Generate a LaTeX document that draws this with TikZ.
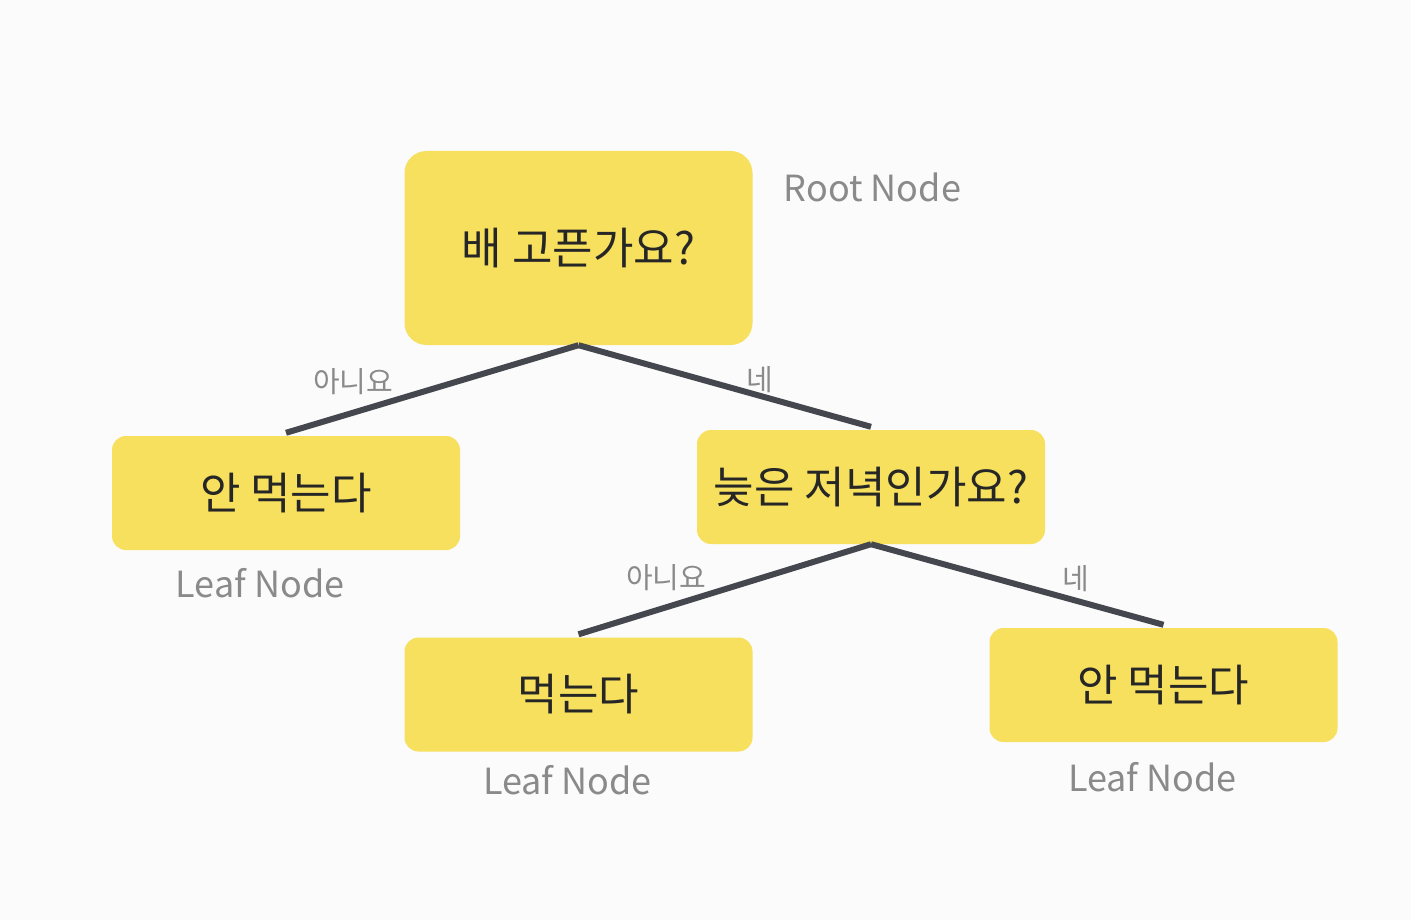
\documentclass[tikz,border=0pt]{standalone}
\usepackage{fontspec}
\setmainfont{Noto Sans CJK KR}
\usetikzlibrary{positioning}
\definecolor{boxyellow}{HTML}{F6E05E}
\definecolor{edgegray}{HTML}{45474F}
\definecolor{labgray}{HTML}{8A8A8A}
\definecolor{bggray}{HTML}{FBFBFB}

\begin{document}
\begin{tikzpicture}[
  x=1pt, y=-1pt,
  qbox/.style={fill=boxyellow, rounded corners=14pt, inner sep=0pt, minimum width=348pt, minimum height=114pt, text=black!85, font=\fontsize{44}{52}\selectfont},
  rootbox/.style={qbox, rounded corners=22pt, minimum height=194pt},
  edge/.style={draw=edgegray, line width=6pt},
  ans/.style={text=labgray, inner sep=0pt, font=\fontsize{29}{34}\selectfont},
  kind/.style={text=labgray, inner sep=0pt, font=\fontsize{36}{43}\selectfont}
]
\fill[bggray] (0,0) rectangle (1411,920);
\node[rootbox] (root) at (578.5,248) {배 고픈가요?};
\node[qbox] (leafno) at (286,493) {안 먹는다};
\node[qbox] (late) at (871,487) {늦은 저녁인가요?};
\node[qbox] (leafeat) at (578.5,694.5) {먹는다};
\node[qbox] (leafnot) at (1163.5,685) {안 먹는다};
\node[kind, below right=22pt and 31pt of root.north east] (rootlab) {Root Node};
\node[kind, below=18pt of leafno, xshift=-26pt] (leaflab1) {Leaf Node};
\node[kind, below=13pt of leafeat, xshift=-11pt] (leaflab2) {Leaf Node};
\node[kind, below=20pt of leafnot, xshift=-11pt] (leaflab3) {Leaf Node};
\draw[edge] (root.south) -- node[ans, pos=0.77, above=15pt] (no1) {아니요} ([yshift=3pt]leafno.north);
\draw[edge] (root.south) -- node[ans, pos=0.62, above=0pt] (yes1) {네} ([yshift=3pt]late.north);
\draw[edge] (late.south) -- node[ans, pos=0.70, above=14pt] (no2) {아니요} ([yshift=3pt]leafeat.north);
\draw[edge] (late.south) -- node[ans, pos=0.70, above=6pt] (yes2) {네} ([yshift=3pt]leafnot.north);
\end{tikzpicture}
\end{document}
